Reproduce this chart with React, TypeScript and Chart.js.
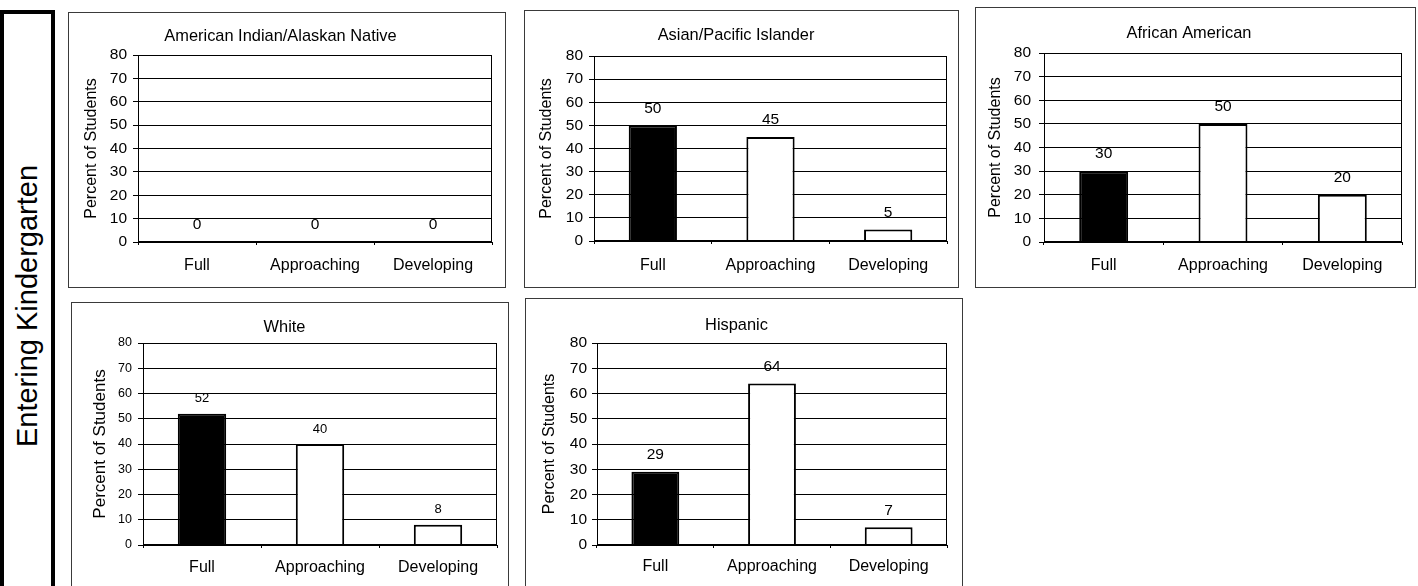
import React, { useEffect, useRef } from "react";
import { Chart, registerables } from "chart.js";

Chart.register(...registerables);

// ---------------- data ----------------
const categories = ["Full", "Approaching", "Developing"];
const americanIndianValues = [0, 0, 0];
const asianPacificValues = [50, 45, 5];
const africanAmericanValues = [30, 50, 20];
const whiteValues = [52, 40, 8];
const hispanicValues = [29, 64, 7];
const yTickValues = [0, 10, 20, 30, 40, 50, 60, 70, 80];
const yAxisTitle = "Percent of Students";
const sideLabel = "Entering Kindergarten";
const panelTitles = [
  "American Indian/Alaskan Native",
  "Asian/Pacific Islander",
  "African American",
  "White",
  "Hispanic",
];
const barColors = ["#000000", "#ffffff", "#ffffff"];

// ---------------- layout (page px) ----------------
type Layout = {
  box: [number, number, number, number];
  plot: [number, number, number, number];
  titleY: number;
  xLabelY: number;
  yTitleX: number;
  tickRight: number;
  tickFont: number;
  labelFont: number;
  labelGap: number;
  yTitleFont: number;
};

const layouts: Layout[] = [
  { box: [68, 12, 505, 287], plot: [138, 55, 492, 242], titleY: 36, xLabelY: 266, yTitleX: 92, tickRight: 127, tickFont: 15.5, labelFont: 15.5, labelGap: 17, yTitleFont: 16 },
  { box: [524, 10, 958, 287], plot: [594, 56, 947, 241], titleY: 35, xLabelY: 266, yTitleX: 547, tickRight: 583, tickFont: 15.5, labelFont: 15.5, labelGap: 17, yTitleFont: 16 },
  { box: [975, 7, 1415, 287], plot: [1044, 53, 1402, 242], titleY: 33, xLabelY: 266, yTitleX: 996, tickRight: 1031, tickFont: 15.5, labelFont: 15.5, labelGap: 17, yTitleFont: 16 },
  { box: [71, 302, 508, 600], plot: [143, 343, 497, 545], titleY: 327, xLabelY: 568, yTitleX: 100, tickRight: 132, tickFont: 12.5, labelFont: 13, labelGap: 15, yTitleFont: 17 },
  { box: [525, 298, 962, 600], plot: [597, 343, 947, 545], titleY: 325, xLabelY: 567, yTitleX: 550, tickRight: 587, tickFont: 15.5, labelFont: 15.5, labelGap: 17, yTitleFont: 16 },
];

const panelValues = [
  americanIndianValues,
  asianPacificValues,
  africanAmericanValues,
  whiteValues,
  hispanicValues,
];

const FONT = "'Liberation Sans', Arial, Helvetica, sans-serif";
const TITLE_SIZE = 16.4;
const XLABEL_SIZE = 16;
const Y_TICK_LEN = 5;
const X_TICK_LEN = 3;

const framePlugin = {
  id: "frame",
  afterDraw(chart: any) {
    const { ctx, chartArea } = chart;
    const l = Math.round(chartArea.left) + 0.5;
    const t = Math.round(chartArea.top) + 0.5;
    const r = Math.round(chartArea.right) - 0.5;
    const b = Math.round(chartArea.bottom) - 0.5;
    ctx.save();
    ctx.strokeStyle = "#000";
    ctx.lineWidth = 1;
    ctx.strokeRect(l, t, r - l, b - t);
    ctx.restore();
  },
};

const valueLabelPlugin = {
  id: "valueLabels",
  afterDatasetsDraw(chart: any, _args: any, opts: any) {
    const { ctx } = chart;
    const meta = chart.getDatasetMeta(0);
    const data = chart.data.datasets[0].data as number[];
    ctx.save();
    ctx.fillStyle = "#000";
    ctx.font = `${opts.size}px ${FONT}`;
    ctx.textAlign = "center";
    ctx.textBaseline = "middle";
    meta.data.forEach((bar: any, i: number) => {
      ctx.fillText(String(data[i]), bar.x, bar.y - opts.gap);
    });
    ctx.restore();
  },
};

function Panel({ index }: { index: number }) {
  const ref = useRef<HTMLCanvasElement | null>(null);
  const lay = layouts[index];
  const [L, T, R, B] = lay.box;
  const cl = L + 1;
  const ct = T + 1;
  const cw = R - L - 1;
  const ch = B - T - 1;

  useEffect(() => {
    if (!ref.current) return;
    const [pl, pt, pr, pb] = lay.plot;
    const titleLH = TITLE_SIZE * 1.2;
    const xLH = XLABEL_SIZE * 1.2;
    const yTitleLH = lay.yTitleFont * 1.2;
    const yWidth = pl - cl;
    const xHeight = ct + ch - pb;
    const padRight = cl + cw - pr;

    const chart = new Chart(ref.current, {
      type: "bar",
      data: {
        labels: categories,
        datasets: [
          {
            data: panelValues[index],
            backgroundColor: barColors,
            borderColor: "#000",
            borderWidth: 2,
            barPercentage: 0.41,
            categoryPercentage: 1,
          },
        ],
      },
      options: {
        responsive: false,
        animation: false,
        events: [],
        layout: { padding: { left: 0, top: 0, right: padRight, bottom: 0 } },
        plugins: {
          legend: { display: false },
          tooltip: { enabled: false },
          title: {
            display: true,
            text: panelTitles[index],
            color: "#000",
            font: { size: TITLE_SIZE, weight: "normal", family: FONT },
            padding: {
              top: lay.titleY - ct - titleLH / 2,
              bottom: pt - lay.titleY - titleLH / 2,
            },
          },
          valueLabels: { size: lay.labelFont, gap: lay.labelGap },
        } as any,
        scales: {
          x: {
            grid: {
              display: true,
              drawOnChartArea: false,
              drawTicks: true,
              tickLength: X_TICK_LEN,
              color: "#000",
            },
            border: { display: true, color: "#000" },
            ticks: {
              color: "#000",
              font: { size: XLABEL_SIZE, family: FONT },
              padding: lay.xLabelY - pb - X_TICK_LEN - xLH / 2,
              maxRotation: 0,
            },
            afterFit: (s: any) => {
              s.height = xHeight;
            },
          },
          y: {
            min: 0,
            max: 80,
            afterBuildTicks: (s: any) => {
              s.ticks = yTickValues.map((v) => ({ value: v }));
            },
            grid: { color: "#000", lineWidth: 1, drawTicks: true, tickLength: Y_TICK_LEN },
            border: { display: true, color: "#000" },
            ticks: {
              color: "#000",
              font: { size: lay.tickFont, family: FONT },
              padding: pl - lay.tickRight - Y_TICK_LEN,
            },
            title: {
              display: true,
              text: yAxisTitle,
              color: "#000",
              font: { size: lay.yTitleFont, family: FONT },
              padding: { top: lay.yTitleX - cl - yTitleLH / 2, bottom: 0 },
            },
            afterFit: (s: any) => {
              s.width = yWidth;
            },
          },
        },
      } as any,
      plugins: [framePlugin, valueLabelPlugin],
    });
    return () => chart.destroy();
  }, [index]);

  return (
    <div
      style={{
        position: "absolute",
        left: L,
        top: T,
        width: cw,
        height: ch,
        border: "1px solid #3a3a3a",
        background: "#fff",
      }}
    >
      <canvas ref={ref} width={cw} height={ch} style={{ display: "block", width: cw, height: ch }} />
    </div>
  );
}

export default function App() {
  Chart.defaults.font.family = FONT;
  Chart.defaults.color = "#000";
  return (
    <div
      style={{
        position: "absolute",
        left: 0,
        top: 0,
        width: 1418,
        height: 586,
        overflow: "hidden",
        background: "#fff",
        fontFamily: FONT,
      }}
    >
      <div
        style={{
          position: "absolute",
          left: 0,
          top: 10,
          width: 47,
          height: 620,
          border: "4px solid #000",
        }}
      />
      <div
        style={{
          position: "absolute",
          left: 27,
          top: 306,
          transform: "translate(-50%, -50%) rotate(-90deg)",
          fontSize: 29,
          lineHeight: 1,
          whiteSpace: "nowrap",
          color: "#000",
        }}
      >
        {sideLabel}
      </div>
      {layouts.map((_, i) => (
        <Panel key={i} index={i} />
      ))}
    </div>
  );
}
